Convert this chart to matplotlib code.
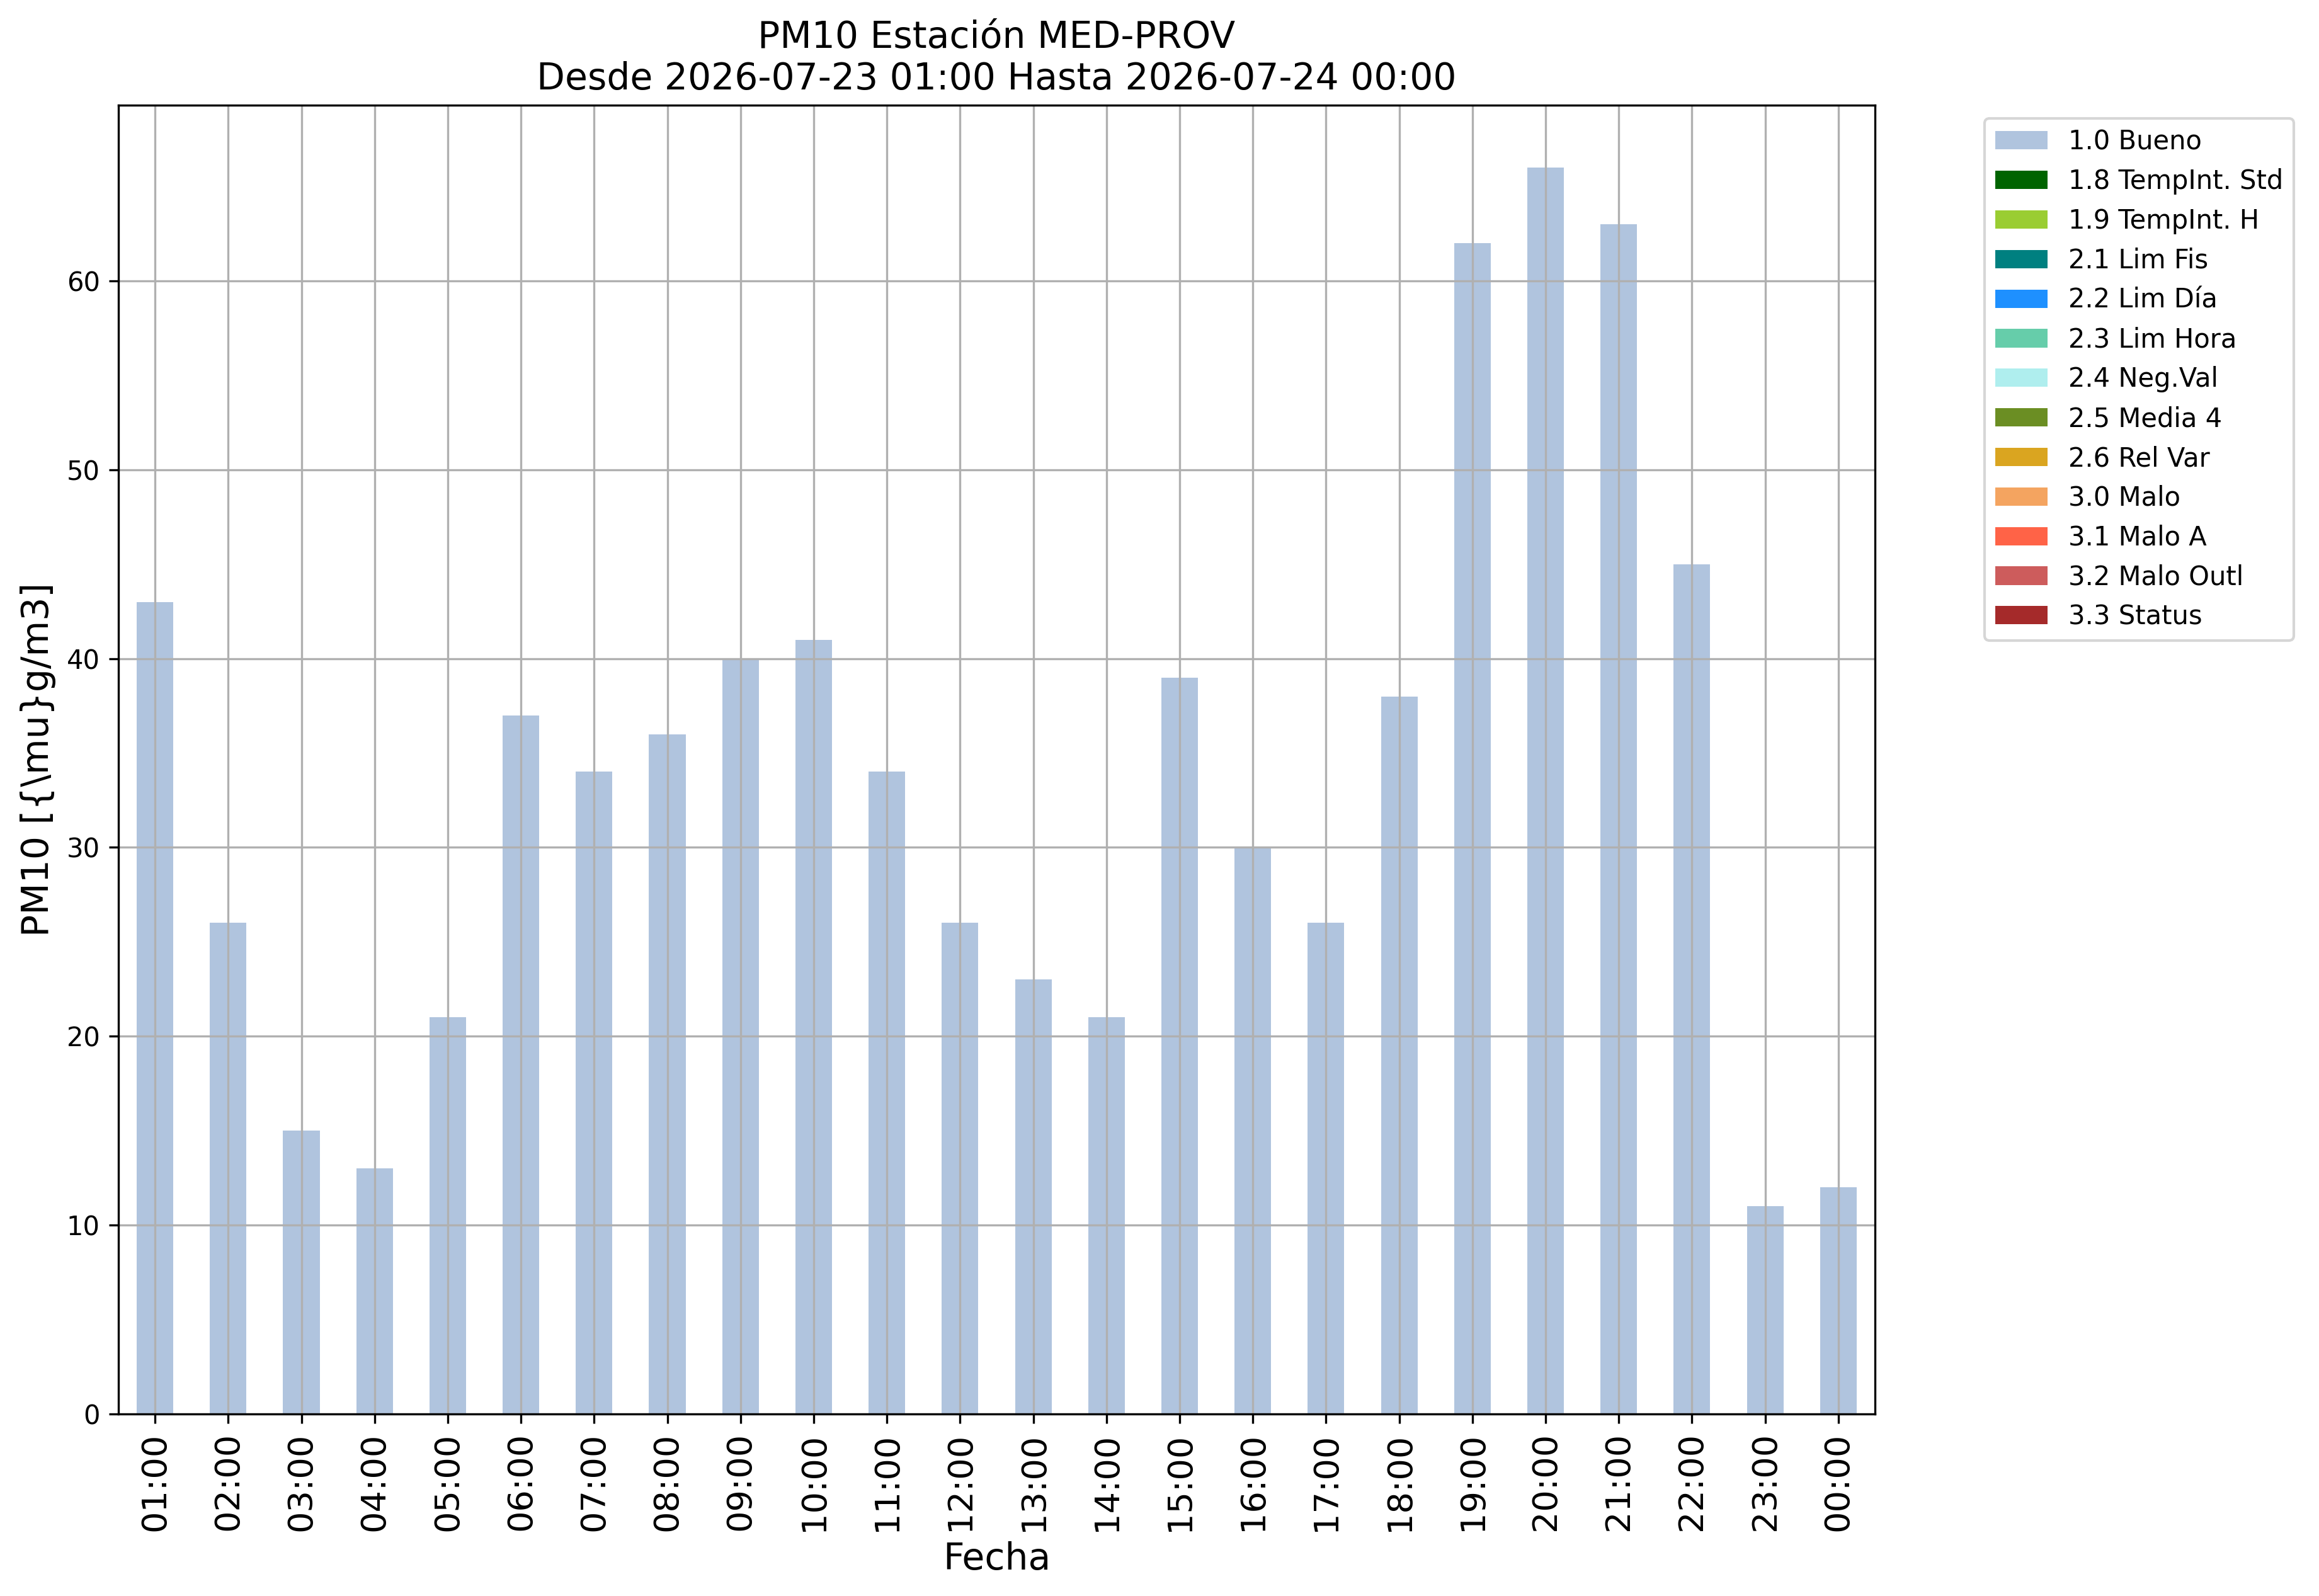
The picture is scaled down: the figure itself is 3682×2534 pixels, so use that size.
import numpy as np
import pandas as pd
import matplotlib
matplotlib.use("Agg")
import matplotlib.pyplot as plt

# datos horarios PM10
horas = ["01:00", "02:00", "03:00", "04:00", "05:00", "06:00", "07:00", "08:00",
         "09:00", "10:00", "11:00", "12:00", "13:00", "14:00", "15:00", "16:00",
         "17:00", "18:00", "19:00", "20:00", "21:00", "22:00", "23:00", "00:00"]
bueno = [43, 26, 15, 13, 21, 37, 34, 36, 40, 41, 34, 26,
         23, 21, 39, 30, 26, 38, 62, 66, 63, 45, 11, 12]

banderas = ["1.0 Bueno", "1.8 TempInt. Std", "1.9 TempInt. H", "2.1 Lim Fis",
            "2.2 Lim Día", "2.3 Lim Hora", "2.4 Neg.Val", "2.5 Media 4",
            "2.6 Rel Var", "3.0 Malo", "3.1 Malo A", "3.2 Malo Outl", "3.3 Status"]
colores = ["lightsteelblue", "darkgreen", "yellowgreen", "teal", "dodgerblue",
           "mediumaquamarine", "paleturquoise", "olivedrab", "goldenrod",
           "sandybrown", "tomato", "indianred", "brown"]

df = pd.DataFrame(0.0, index=horas, columns=banderas)
df["1.0 Bueno"] = bueno

fig = plt.figure(figsize=(3682 / 300, 2534 / 300), dpi=300)
ax = fig.add_axes([0.05106, 0.11405, 0.75744, 0.82005])

df.plot(kind="bar", stacked=True, color=colores, ax=ax, legend=False)

ax.grid(True)
ax.set_title("PM10 Estación MED-PROV\nDesde 2026-07-23 01:00 Hasta 2026-07-24 00:00", fontsize=14)
ax.set_xlabel("Fecha", fontsize=14)
ax.set_ylabel(r"PM10 [{\mu}g/m3]", fontsize=14)
ax.tick_params(axis="x", labelsize=13, labelrotation=90)
ax.tick_params(axis="y", labelsize=10)

ax.legend(bbox_to_anchor=(1.055, 1), loc="upper left", fontsize=10)

fig.savefig("out.png", dpi=300)
